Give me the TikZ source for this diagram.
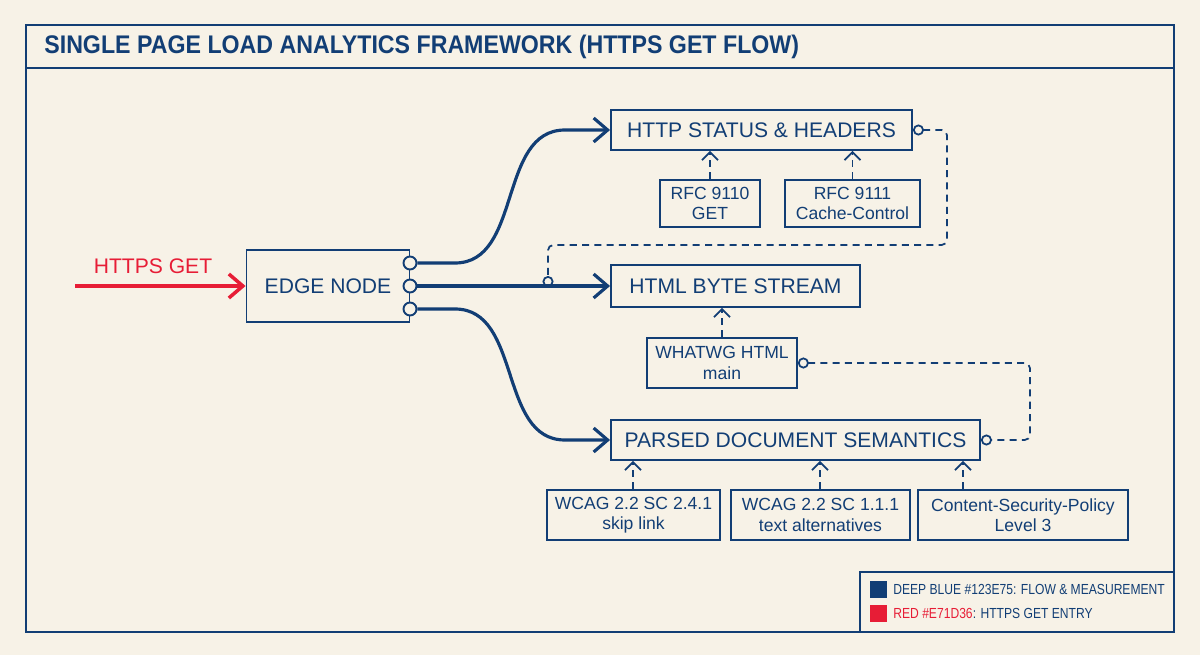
\documentclass[tikz,border=0pt]{standalone}
\usepackage{fontspec}
\setmainfont{Liberation Sans}
\newfontfamily\narrowfont[FakeStretch=0.91]{Liberation Sans}
\newfontfamily\keyfont[FakeStretch=0.83]{Liberation Sans}
\usetikzlibrary{arrows.meta}
\usetikzlibrary{positioning}
\definecolor{deepblue}{HTML}{123E75}
\definecolor{getred}{HTML}{E71D36}
\definecolor{paper}{HTML}{F7F2E7}
\tikzset{>={Straight Barb[length=2.8mm,width=4.8mm]}}

\begin{document}
\begin{tikzpicture}[x=0.02cm,y=-0.02cm,text=deepblue]
		\tikzstyle{box}=[draw=deepblue,line width=1.1pt,fill=paper,inner sep=0pt,align=center,font=\fontsize{12}{14}\selectfont]
		\tikzstyle{refbox}=[box,line width=1pt,font=\fontsize{10}{11.5}\selectfont]
		\tikzstyle{port}=[circle,draw=deepblue,line width=1.1pt,fill=paper,inner sep=0pt,minimum size=0.26cm]
		\tikzstyle{flow}=[deepblue,line width=1.8pt,->]
		\tikzstyle{feed}=[deepblue,line width=1pt,dash pattern=on 4pt off 3pt,rounded corners=3pt,
			{Circle[open,length=2.2mm,line width=1pt]}-{Circle[open,length=2.2mm,line width=1pt]}]
		\tikzstyle{cite}=[deepblue,line width=1pt,dash pattern=on 4pt off 3pt,
			-{Straight Barb[length=1.6mm,width=3.2mm,line width=1pt]}]
		
		\fill[paper] (0,0) rectangle (1200,655);
		\useasboundingbox (0,0) rectangle (1200,655);
		
		% frame and title
		\draw[deepblue,line width=1.3pt] (26,25) rectangle (1174,632);
		\draw[deepblue,line width=1.3pt] (26,68) -- (1174,68);
		\node[anchor=west,inner sep=0pt,font={\narrowfont\bfseries\fontsize{14.5}{16}\selectfont}] (title) at (44,47)
			{SINGLE PAGE LOAD ANALYTICS FRAMEWORK (HTTPS GET FLOW)};
		
		% entry and edge
		\node[box,minimum width=3.26cm,minimum height=1.44cm] (edge) at (328,286) {EDGE NODE};
		\node[port] (p1) at (410,263) {};
		\node[port] (p2) at (410,286) {};
		\node[port] (p3) at (410,309) {};
		\coordinate (src) at (75,286);
		\node[text=getred,font=\fontsize{12}{14}\selectfont] (getlbl) at (153,266) {HTTPS GET};
		
		% main column
		\node[box,minimum width=6.02cm,minimum height=0.8cm] (status) at (761.5,130) {HTTP STATUS \& HEADERS};
		\node[box,minimum width=4.98cm,minimum height=0.84cm] (stream) at (735.5,286) {HTML BYTE STREAM};
		\node[box,minimum width=7.38cm,minimum height=0.8cm] (parsed) at (795.5,440) {PARSED DOCUMENT SEMANTICS};
		
		% references
		\node[refbox,minimum width=2.0cm,minimum height=0.94cm] (rfca) at (710,203.5) {RFC 9110\\GET};
		\node[refbox,minimum width=2.7cm,minimum height=0.94cm] (rfcb) at (852.5,203.5) {RFC 9111\\Cache-Control};
		\node[refbox,minimum width=3.0cm,minimum height=1.0cm] (whatwg) at (722,363) {WHATWG HTML\\main};
		\node[refbox,minimum width=3.46cm,minimum height=1.0cm] (wcaga) at (633.5,515) {WCAG 2.2 SC 2.4.1\\skip link};
		\node[refbox,minimum width=3.58cm,minimum height=1.0cm] (wcagb) at (820.5,515) {WCAG 2.2 SC 1.1.1\\text alternatives};
		\node[refbox,minimum width=4.2cm,minimum height=1.0cm] (csp) at (1023,515) {Content-Security-Policy\\Level 3};
		
		% flow
		\draw[getred,line width=2pt,->] (src) -- (edge.west);
		\draw[flow] (p1.east) -- (455,263) to[out=0,in=180] (565,130) -- (status.west);
		\draw[flow] (p2.east) -- (stream.west);
		\draw[flow] (p3.east) -- (455,309) to[out=0,in=180] (565,440) -- (parsed.west);
		
		% measurement links
		\coordinate (fbend) at (548,287);
		\draw[feed] (status.east) -- (947,130) -- (947,245) -- (548,245) -- (fbend);
		\draw[feed] (whatwg.east) -- (1030,363) -- (1030,440) -- (parsed.east);
		\draw[cite] (rfca.north) -- (rfca.north |- status.south);
		\draw[cite] (rfcb.north) -- (rfcb.north |- status.south);
		\draw[cite] (whatwg.north) -- (whatwg.north |- stream.south);
		\draw[cite] (wcaga.north -| 633,0) -- (633,0 |- parsed.south);
		\draw[cite] (wcagb.north -| 820,0) -- (820,0 |- parsed.south);
		\draw[cite] (csp.north -| 963,0) -- (963,0 |- parsed.south);
		
		% legend
		\draw[deepblue,line width=1.3pt] (860,572) rectangle (1174,632);
		\node[fill=deepblue,inner sep=0pt,minimum size=0.34cm] (keyb) at (878,589) {};
		\node[fill=getred,inner sep=0pt,minimum size=0.34cm] (keyr) at (878,613) {};
		\node[anchor=west,inner sep=0pt,font={\keyfont\fontsize{8.3}{10}\selectfont}] (legb) at (893,589)
			{DEEP BLUE \#123E75: FLOW \& MEASUREMENT};
		\node[anchor=west,inner sep=0pt,font={\keyfont\fontsize{8.3}{10}\selectfont}] (legr) at (893,613)
			{\textcolor{getred}{RED \#E71D36}: HTTPS GET ENTRY};
\end{tikzpicture}
\end{document}
